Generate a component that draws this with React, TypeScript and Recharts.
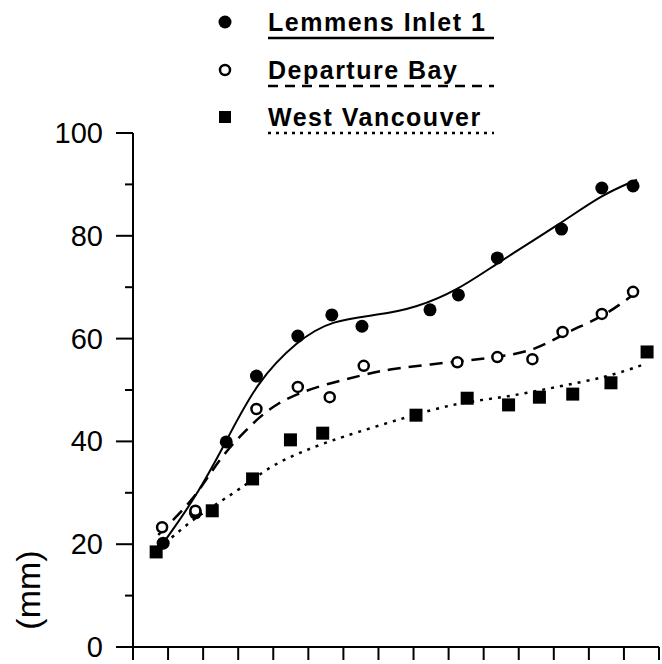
import { ComposedChart, Line, Scatter, XAxis, YAxis } from "recharts";

const FONT = "'Liberation Sans', Arial, sans-serif";

const stations = ["Lemmens Inlet 1", "Departure Bay", "West Vancouver"];

// x is measured in tick intervals along the (unlabelled) time axis
const xTicks = [0, 1, 2, 3, 4, 5, 6, 7, 8, 9, 10, 11, 12, 13, 14, 15];
const yTicks = [0, 10, 20, 30, 40, 50, 60, 70, 80, 90, 100];

// observed points
const lemmensX = [0.86, 1.78, 2.66, 3.52, 4.7, 5.67, 6.53, 8.47, 9.28, 10.39, 12.22, 13.37, 14.26];
const lemmensY = [20.2, 26.1, 39.9, 52.7, 60.5, 64.6, 62.4, 65.6, 68.5, 75.7, 81.3, 89.3, 89.7];

const departureX = [0.83, 1.78, 3.52, 4.7, 5.61, 6.58, 9.25, 10.39, 11.39, 12.25, 13.37, 14.26];
const departureY = [23.3, 26.5, 46.3, 50.6, 48.6, 54.7, 55.4, 56.4, 56.0, 61.3, 64.8, 69.1];

const westX = [0.66, 2.26, 3.41, 4.49, 5.41, 8.07, 9.53, 10.71, 11.59, 12.54, 13.63, 14.66];
const westY = [18.5, 26.5, 32.7, 40.3, 41.6, 45.1, 48.4, 47.1, 48.6, 49.2, 51.4, 57.4];

// fitted curves
const lemmensFitX = [0.86, 1.78, 2.66, 3.52, 4.7, 5.67, 7.01, 8.07, 9.28, 10.39, 12.22, 13.37, 14.37];
const lemmensFitY = [20.2, 29, 40, 51.5, 59.7, 63.6, 64.6, 66, 69.5, 74.7, 82.5, 88, 90.9];

const departureFitX = [0.72, 1.78, 2.43, 3.21, 4.07, 5.38, 6.58, 7.1, 9.02, 10.45, 11.51, 12.37, 13.4, 14.26];
const departureFitY = [21.8, 29, 36.4, 42.2, 47.7, 51, 52.9, 53.9, 55.4, 56.4, 57.8, 61.3, 64.2, 68.5];

const westFitX = [0.72, 1.57, 2.23, 3.01, 3.95, 4.92, 5.87, 7.79, 9.22, 10.65, 12.08, 13.51, 14.54];
const westFitY = [19, 24.1, 27.2, 30.5, 35.4, 38.3, 40.7, 44.7, 47.5, 48.6, 50.6, 52.5, 54.9];

const zip = (xs: number[], ys: number[]) => xs.map((x, i) => ({ x, y: ys[i] }));

const filledCircle = (p: any) => <circle cx={p.cx} cy={p.cy} r={6.5} fill="#000" />;
const openCircle = (p: any) => (
  <circle cx={p.cx} cy={p.cy} r={5} fill="#fff" stroke="#000" strokeWidth={2.5} />
);
const filledSquare = (p: any) => <rect x={p.cx - 6.5} y={p.cy - 6.5} width={13} height={13} fill="#000" />;

const renderYTick = (props: any) => {
  const { x, y, payload } = props;
  const major = payload.value % 20 === 0;
  const len = major ? 17 : 8;
  return (
    <g>
      <line x1={x - len} x2={x} y1={y} y2={y} stroke="#000" strokeWidth={2} />
      {major && (
        <text x={x - len - 13} y={y + 10} textAnchor="end" fontFamily={FONT} fontSize={29} fill="#000">
          {payload.value}
        </text>
      )}
    </g>
  );
};

function LegendBlock() {
  const rowY = [22, 70, 117];
  const dash = ["none", "10 7", "3 5"];
  const markers = [
    <circle cx={225} cy={rowY[0]} r={6.5} fill="#000" />,
    <circle cx={225} cy={rowY[1]} r={5} fill="#fff" stroke="#000" strokeWidth={2.5} />,
    <rect x={219} y={rowY[2] - 6} width={12} height={12} fill="#000" />,
  ];
  return (
    <svg width={662} height={140} style={{ position: "absolute", left: 0, top: 0, pointerEvents: "none" }}>
      {stations.map((name, i) => (
        <g key={name}>
          {markers[i]}
          <text x={268} y={rowY[i] + 9} fontFamily={FONT} fontWeight="bold" fontSize={25} letterSpacing={1.5} fill="#000">
            {name}
          </text>
          <line x1={268} x2={494} y1={rowY[i] + 16} y2={rowY[i] + 16} stroke="#000" strokeWidth={2.5} strokeDasharray={dash[i]} />
        </g>
      ))}
    </svg>
  );
}

export default function App() {
  return (
    <div style={{ position: "absolute", left: 0, top: 0, width: 662, height: 664, background: "#fff" }}>
      <ComposedChart width={662} height={664} margin={{ top: 133, right: 3, bottom: 0, left: 0 }}>
        <XAxis
          type="number"
          dataKey="x"
          domain={[0, 15]}
          ticks={xTicks}
          interval={0}
          tickFormatter={() => ""}
          tickSize={13}
          height={17}
          axisLine={{ stroke: "#000", strokeWidth: 2 }}
          tickLine={{ stroke: "#000", strokeWidth: 2 }}
        />
        <YAxis
          type="number"
          dataKey="y"
          domain={[0, 100]}
          ticks={yTicks}
          interval={0}
          width={133}
          tickSize={0}
          tickMargin={0}
          tickLine={false}
          axisLine={{ stroke: "#000", strokeWidth: 2 }}
          tick={renderYTick}
          label={{
            content: () => (
              <text transform="translate(40 590) rotate(-90)" textAnchor="middle" fontFamily={FONT} fontSize={34} fill="#000">
                (mm)
              </text>
            ),
          }}
        />
        <Line data={zip(lemmensFitX, lemmensFitY)} dataKey="y" type="basis" stroke="#000" strokeWidth={2} dot={false} isAnimationActive={false} />
        <Line data={zip(departureFitX, departureFitY)} dataKey="y" type="basis" stroke="#000" strokeWidth={2.5} strokeDasharray="13 8" dot={false} isAnimationActive={false} />
        <Line data={zip(westFitX, westFitY)} dataKey="y" type="basis" stroke="#000" strokeWidth={2.5} strokeDasharray="3 6" dot={false} isAnimationActive={false} />
        <Scatter data={zip(lemmensX, lemmensY)} dataKey="y" shape={filledCircle} isAnimationActive={false} />
        <Scatter data={zip(departureX, departureY)} dataKey="y" shape={openCircle} isAnimationActive={false} />
        <Scatter data={zip(westX, westY)} dataKey="y" shape={filledSquare} isAnimationActive={false} />
      </ComposedChart>
      <LegendBlock />
    </div>
  );
}
